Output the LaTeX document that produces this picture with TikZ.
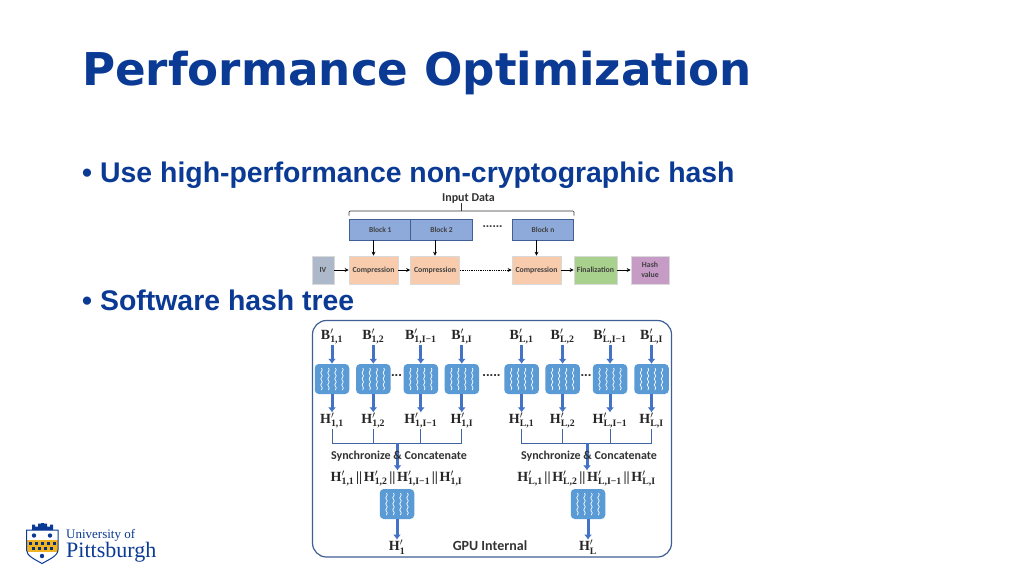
\documentclass[tikz,border=0pt]{standalone}
\usepackage{amsmath}
\usepackage[no-math]{fontspec}
\setmainfont{Liberation Sans}
\newfontfamily\titlefont{DejaVu Sans}
\newfontfamily\figfont{Carlito}
\newfontfamily\logofont{Liberation Serif}
\usetikzlibrary{arrows.meta,decorations.pathmorphing,shadows,positioning}
\definecolor{pittblue}{HTML}{0B3A94}
\definecolor{framecol}{HTML}{3F5F96}
\definecolor{arrowcol}{HTML}{4472C4}
\definecolor{unitcol}{HTML}{5B9BD5}
\definecolor{blockcol}{HTML}{8EAADB}
\definecolor{compcol}{HTML}{F8CBAD}
\definecolor{ivcol}{HTML}{ADB9CA}
\definecolor{fincol}{HTML}{A9D18E}
\definecolor{hashcol}{HTML}{C69BC6}
\definecolor{pittgold}{HTML}{F0B323}
\newcommand{\bsym}[2]{{\logofont\bfseries #1}$'_{\text{\logofont\bfseries #2}}$}
\newcommand{\barsep}{\kern1.7pt{\logofont\bfseries||}\kern1.7pt}
\newcommand{\chain}[1]{\bsym{H}{#1,1}\barsep\bsym{H}{#1,2}\barsep\bsym{H}{#1,I−1}\barsep\bsym{H}{#1,I}}
\tikzset{
  flowbox/.style={draw=white!85!black,line width=.7pt,minimum height=28,inner sep=0,font=\figfont\bfseries\fontsize{7.8}{9}\selectfont,text=black!75,align=center,
    drop shadow={shadow xshift=.6pt,shadow yshift=-.6pt,fill=black!40}},
  blockbox/.style={draw=framecol,line width=.6pt,fill=blockcol,minimum height=21,minimum width=61.5,inner sep=0,font=\figfont\bfseries\fontsize{7.5}{9}\selectfont,text=black!75,
    drop shadow={shadow xshift=.6pt,shadow yshift=-.6pt,fill=black!30}},
  flowarrow/.style={-{Stealth[length=4,width=4]},line width=.8pt,black},
  unitbox/.style={fill=unitcol,rounded corners=4,minimum width=34.5,minimum height=30,inner sep=0,
    path picture={
      \foreach \wx in {-10.5,-3.5,3.5,10.5}
        \draw[sharp corners,white,line width=.7pt,decorate,decoration={snake,amplitude=.7,segment length=6}]
          ([xshift=\wx pt,yshift=-4pt]path picture bounding box.north) -- ([xshift=\wx pt,yshift=4pt]path picture bounding box.south);
    }},
  bigarrow/.style={-{Latex[length=5,width=8]},line width=3pt,arrowcol},
  busline/.style={line width=.7pt,framecol!70!arrowcol},
  symbol/.style={inner sep=0,font=\fontsize{14}{16}\selectfont,text=black!85},
  figtext/.style={inner sep=0,font=\figfont\bfseries\fontsize{12}{14}\selectfont,text=black!80},
}
\begin{document}
\begin{tikzpicture}[x=1pt,y=-1pt]
  \useasboundingbox (0,0) rectangle (1024,576);
  \fill[white] (0,0) rectangle (1024,576);

  % slide text
  \node[anchor=west,inner sep=0,text=pittblue,font=\titlefont\bfseries\fontsize{45.2}{50}\selectfont] (title) at (82,73.5) {Performance Optimization};
  \node[anchor=west,inner sep=0,text=pittblue,font=\bfseries\fontsize{28.4}{31}\selectfont] (bulletA) at (82,175.5) {\makebox[18pt][l]{•}Use high-performance non-cryptographic hash};
  \node[anchor=west,inner sep=0,text=pittblue,font=\bfseries\fontsize{28.4}{31}\selectfont] (bulletB) at (82,300) {\makebox[18pt][l]{•}Software hash tree};

  % upper figure
  \node[inner sep=0,font=\figfont\bfseries\fontsize{12}{14}\selectfont,text=black!80] (input) at (468.5,199) {Input Data};
  \coordinate (braceL) at (349,215.5);
  \coordinate (braceR) at (574,215.5);
  \coordinate (braceT) at (461,203);
  \coordinate (braceM) at (461,211);
  \draw[line width=.7pt,black!80,rounded corners=1] (braceL) |- (braceM) -| (braceR);
  \draw[line width=.7pt,black!80] (braceM) -- (braceT);

  \node[blockbox] (blockA) at (380.2,229.5) {Block 1};
  \node[blockbox] (blockB) at (441.5,229.5) {Block 2};
  \node[blockbox] (blockN) at (543,229.5) {Block n};
  \node[inner sep=0,font=\bfseries\fontsize{12}{13}\selectfont,text=black!75] (gap) at (492.5,226.5) {......};

  \node[flowbox,fill=ivcol,minimum width=22] (iv) at (323,270) {IV};
  \node[flowbox,fill=compcol,minimum width=49] (compA) at (373.5,270) {Compression};
  \node[flowbox,fill=compcol,minimum width=49] (compB) at (435,270) {Compression};
  \node[flowbox,fill=compcol,minimum width=49] (compN) at (536.5,270) {Compression};
  \node[flowbox,fill=fincol,minimum width=43] (final) at (595.5,270) {Finalization};
  \node[flowbox,fill=hashcol,minimum width=38] (hash) at (650,270) {Hash\\[1pt]value};

  \draw[flowarrow] (blockA.south -| compA) -- (compA);
  \draw[flowarrow] (blockB.south -| compB) -- (compB);
  \draw[flowarrow] (blockN.south -| compN) -- (compN);
  \draw[flowarrow] (iv) -- (compA);
  \draw[flowarrow] (compA) -- (compB);
  \draw[flowarrow,densely dotted] (compB) -- (compN);
  \draw[flowarrow] (compN) -- (final);
  \draw[flowarrow] (final) -- (hash);

  % lower figure
  \draw[framecol,line width=1.2pt,rounded corners=14] (312.5,320.5) rectangle (671.5,557);

  \foreach \name/\cx/\grp/\idx in {a/332/1/1,b/373.3/1/2,c/420.8/1/{I−1},d/461.8/1/I,
                                   e/521.6/L/1,f/562.6/L/2,g/610/L/{I−1},h/651.5/L/I}{
    \node[symbol] (in\name) at (\cx,336.5) {\bsym{B}{\grp,\idx}};
    \node[unitbox] (unit\name) at (\cx,379) {};
    \node[symbol] (out\name) at (\cx,420.5) {\bsym{H}{\grp,\idx}};
    \draw[bigarrow] (in\name) -- (unit\name);
    \draw[bigarrow] (unit\name) -- (out\name);
  }
  \node[inner sep=0,font=\bfseries\fontsize{13}{14}\selectfont,text=black!80] (dotsA) at (396.5,376) {...};
  \node[inner sep=0,font=\bfseries\fontsize{13}{14}\selectfont,text=black!80] (dotsB) at (491.5,376) {.....};
  \node[inner sep=0,font=\bfseries\fontsize{13}{14}\selectfont,text=black!80] (dotsC) at (586,376) {...};

  \coordinate (busA) at (397.5,443);
  \coordinate (busB) at (587,443);
  \foreach \name in {a,b,c,d}
    \draw[busline] (out\name) |- (busA);
  \foreach \name in {e,f,g,h}
    \draw[busline] (out\name) |- (busB);

  \node[symbol] (chainA) at (396.5,478.5) {\chain{1}};
  \node[symbol] (chainB) at (586.5,478.5) {\chain{L}};
  \draw[bigarrow] (busA) -- (busA |- chainA.north);
  \draw[bigarrow] (busB) -- (busB |- chainB.north);
  \node[figtext] (syncA) at (399,456) {Synchronize \& Concatenate};
  \node[figtext] (syncB) at (589,456) {Synchronize \& Concatenate};

  \node[unitbox] (unitI) at (397,504) {};
  \node[unitbox] (unitJ) at (588,504) {};
  \node[symbol] (resA) at (397,547) {\bsym{H}{1}};
  \node[symbol] (resB) at (588,547) {\bsym{H}{L}};
  \draw[bigarrow] (unitI) -- (resA);
  \draw[bigarrow] (unitJ) -- (resB);
  \node[figtext,font=\figfont\bfseries\fontsize{14}{16}\selectfont] (gpu) at (490,545.5) {GPU Internal};

  % logo
  \fill[pittgold] (26.5,540) rectangle (58,552);
  \draw[pittblue,line width=1pt] (26.5,530) -- (58,530) -- (58,550) .. controls (58,556) and (48,560) .. (42,563.5) .. controls (36,560) and (26.5,556) .. (26.5,550) -- cycle;
  \fill[pittblue] (32,530) -- (32,524.5) -- (35,524.5) -- (35,526.5) -- (38,526.5) -- (38,523.5) -- (41,523.5) -- (41,523) -- (44,523) -- (44,523.5) -- (47,523.5) -- (47,526.5) -- (50,526.5) -- (50,524.5) -- (53,524.5) -- (53,530) -- cycle;
  \fill[pittblue] (34,535.5) circle (2.2) (50,535.5) circle (2.2) (42,556) circle (2.2);
  \foreach \bx in {30,36,42,48,54}
    \fill[pittblue!80!black] (\bx-1.5,542) rectangle (\bx+1.5,545);
  \foreach \bx in {33,39,45,51}
    \fill[pittblue!80!black] (\bx-1.5,547) rectangle (\bx+1.5,550);
  \node[anchor=west,inner sep=0,text=pittblue,font=\logofont\fontsize{13}{15}\selectfont] (univ) at (66,535.5) {University of};
  \node[anchor=west,inner sep=0,text=pittblue,font=\logofont\fontsize{22}{25}\selectfont] (pitt) at (66,552.5) {Pittsburgh};
\end{tikzpicture}
\end{document}
